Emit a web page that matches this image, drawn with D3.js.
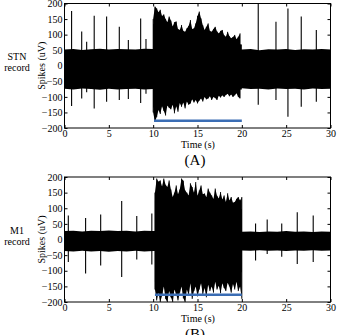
<!DOCTYPE html>
<meta charset="utf-8">
<script src="https://d3js.org/d3.v7.min.js"></script>
<style>
  body { margin: 0; background: #fff; }
  text { font-family: "Liberation Serif", serif; fill: #000; }
</style>
<body>
<div id="chart"></div>
<script>
// ticks
var xTicks = [0, 5, 10, 15, 20, 25, 30];
var yTicks = [-200, -150, -100, -50, 0, 50, 100, 150, 200];

// ---- STN record (A) ----
// dense band: upper / lower edge
var stnCoreT  = [0,1,2,3,4,5,6,7,8,9,10, 10,11,12,13,14,15,16,17,18,19,20, 20,21,22,23,24,25,26,27,28,29,30];
var stnCoreHi = [52,54,51,53,55,52,54,53,52,55,54, 135,120,105,98,95,92,88,84,78,72,68, 52,54,50,53,52,54,51,53,52,54,52];
var stnCoreLo = [-74,-76,-73,-75,-77,-74,-76,-75,-74,-76,-75, -135,-118,-108,-100,-96,-94,-90,-86,-82,-78,-76, -72,-75,-74,-76,-73,-75,-74,-76,-73,-75,-74];
// isolated spikes
var stnSpikeT  = [0.8, 1.94, 2.5, 3.35, 4.75, 6.18, 7.2, 8.59, 9.19, 21.85, 23.85, 25.2, 26.7, 28.4];
var stnSpikeHi = [176, 110, 77, 161, 158, 125, 83, 152, 86, 200, 141, 184, 158, 115];
var stnSpikeLo = [-129, -105, -85, -137, -116, -110, -107, -120, -90, -125, -110, -164, -132, -116];
// burst needles
var stnBurstT  = [10.0,10.2,10.4,10.6,10.8,11.0,11.2,11.4,11.6,11.8,12.0,12.2,12.4,12.6,12.8,13.0,13.2,13.4,13.6,13.8,14.0,14.2,14.4,14.6,14.8,15.0,15.2,15.4,15.6,15.8,16.0,16.2,16.4,16.6,16.8,17.0,17.2,17.4,17.6,17.8,18.0,18.2,18.4,18.6,18.8,19.0,19.2,19.4,19.6,19.8];
var stnBurstHi = [150,190,184,172,180,160,165,150,140,158,145,126,140,142,118,115,131,112,109,120,128,147,118,120,136,160,174,152,130,115,125,136,112,109,118,125,110,104,112,115,98,93,109,95,88,92,99,85,93,104];
var stnBurstLo = [-150,-180,-165,-142,-155,-130,-145,-160,-128,-135,-140,-125,-153,-130,-148,-120,-132,-118,-137,-115,-125,-121,-108,-118,-110,-121,-112,-105,-115,-100,-108,-105,-98,-110,-100,-104,-110,-96,-102,-95,-100,-94,-90,-98,-92,-100,-95,-88,-100,-105];
var stnStim = [10.1, 20];

// ---- M1 record (B) ----
var m1CoreT  = [0,1,2,3,4,5,6,7,8,9,10,10.2, 10.2,11,12,13,14,15,16,17,18,19,20, 20,21,22,23,24,25,26,27,28,29,30];
var m1CoreHi = [27,28,26,28,27,29,27,28,26,28,27,27, 125,122,120,118,115,112,110,108,104,100,98, 25,26,24,26,25,27,25,26,24,26,25];
var m1CoreLo = [-37,-38,-36,-38,-37,-39,-37,-38,-36,-38,-37,-37, -135,-132,-130,-128,-125,-122,-120,-116,-112,-108,-105, -35,-36,-34,-36,-35,-37,-35,-36,-34,-36,-35];
var m1SpikeT  = [0.43, 2.38, 4.08, 6.45, 8.15, 9.85, 21.55, 22.86, 24.5, 26.25, 28.05];
var m1SpikeHi = [77, 69, 80, 123, 75, 83, 51, 64, 51, 87, 77];
var m1SpikeLo = [-72, -109, -83, -120, -64, -80, -67, -46, -55, -78, -72];
var m1BurstT  = [10.2,10.4,10.6,10.8,11.0,11.2,11.4,11.6,11.8,12.0,12.2,12.4,12.6,12.8,13.0,13.2,13.4,13.6,13.8,14.0,14.2,14.4,14.6,14.8,15.0,15.2,15.4,15.6,15.8,16.0,16.2,16.4,16.6,16.8,17.0,17.2,17.4,17.6,17.8,18.0,18.2,18.4,18.6,18.8,19.0,19.2,19.4,19.6,19.8,20.0];
var m1BurstHi = [150,195,185,189,170,195,175,168,189,160,136,150,173,145,160,195,188,157,150,141,180,168,150,184,140,157,173,145,147,135,163,150,141,130,163,140,131,152,128,141,120,148,125,136,118,120,130,136,125,136];
var m1BurstLo = [-160,-195,-170,-200,-180,-150,-190,-200,-165,-185,-200,-160,-175,-195,-170,-150,-188,-200,-160,-178,-140,-190,-165,-150,-182,-160,-140,-175,-155,-185,-145,-165,-150,-170,-135,-160,-148,-172,-140,-155,-165,-138,-150,-170,-142,-160,-135,-165,-150,-190];
var m1Stim = [10.2, 20];

var stimLevel = -177;

var W = 337, H = 335;
var svg = d3.select("#chart").append("svg")
  .attr("width", W).attr("height", H);

var x = d3.scaleLinear().domain([0, 30]).range([64.5, 330.5]);

function panel(id, top, bottom, d) {
  var y = d3.scaleLinear().domain([-200, 200]).range([bottom, top]);
  var g = svg.append("g");

  g.append("clipPath").attr("id", "clip" + id)
    .append("rect")
    .attr("x", x(0)).attr("y", top)
    .attr("width", x(30) - x(0)).attr("height", bottom - top);

  var plot = g.append("g").attr("clip-path", "url(#clip" + id + ")");

  // dense band
  plot.append("path")
    .datum(d.coreT.map(function(t, i) { return [t, d.coreHi[i], d.coreLo[i]]; }))
    .attr("fill", "#000")
    .attr("d", d3.area()
      .x(function(p) { return x(p[0]); })
      .y0(function(p) { return y(p[2]); })
      .y1(function(p) { return y(p[1]); }));

  // burst: jagged fill through the needle tips
  plot.append("path")
    .datum(d.burstT.map(function(t, i) { return [t, d.burstHi[i], d.burstLo[i]]; }))
    .attr("fill", "#000")
    .attr("d", d3.area()
      .x(function(p) { return x(p[0]); })
      .y0(function(p) { return y(p[2]); })
      .y1(function(p) { return y(p[1]); }));

  // burst needles
  plot.selectAll(".bn").data(d.burstT).enter().append("line")
    .attr("x1", function(t) { return x(t); })
    .attr("x2", function(t) { return x(t); })
    .attr("y1", function(t, i) { return y(d.burstLo[i]); })
    .attr("y2", function(t, i) { return y(d.burstHi[i]); })
    .attr("stroke", "#000").attr("stroke-width", 0.9);

  // isolated spikes
  plot.selectAll(".sp").data(d.spikeT).enter().append("line")
    .attr("x1", function(t) { return x(t); })
    .attr("x2", function(t) { return x(t); })
    .attr("y1", function(t, i) { return y(d.spikeLo[i]); })
    .attr("y2", function(t, i) { return y(d.spikeHi[i]); })
    .attr("stroke", "#000").attr("stroke-width", 1.1);

  // stimulation bar
  plot.append("line")
    .attr("x1", x(d.stim[0])).attr("x2", x(d.stim[1]))
    .attr("y1", y(stimLevel)).attr("y2", y(stimLevel))
    .attr("stroke", "#3a6db4").attr("stroke-width", 2.5);

  // frame
  g.append("rect")
    .attr("x", x(0)).attr("y", top)
    .attr("width", x(30) - x(0)).attr("height", bottom - top)
    .attr("fill", "none").attr("stroke", "#000").attr("stroke-width", 1);

  // inward ticks on all sides
  g.append("g").attr("transform", "translate(0," + bottom + ")")
    .call(d3.axisBottom(x).tickValues(xTicks).tickSizeInner(-3).tickSizeOuter(0).tickPadding(2))
    .call(function(a) { a.select(".domain").remove(); a.selectAll("text").style("font-size", "10px").style("font-family", "Liberation Serif, serif"); });
  g.append("g").attr("transform", "translate(0," + top + ")")
    .call(d3.axisTop(x).tickValues(xTicks).tickSizeInner(-3).tickSizeOuter(0).tickFormat(""))
    .call(function(a) { a.select(".domain").remove(); });
  g.append("g").attr("transform", "translate(" + x(0) + ",0)")
    .call(d3.axisLeft(y).tickValues(yTicks).tickSizeInner(-3).tickSizeOuter(0).tickPadding(2))
    .call(function(a) { a.select(".domain").remove(); a.selectAll("text").style("font-size", "10px").style("font-family", "Liberation Serif, serif"); });
  g.append("g").attr("transform", "translate(" + x(30) + ",0)")
    .call(d3.axisRight(y).tickValues(yTicks).tickSizeInner(-3).tickSizeOuter(0).tickFormat(""))
    .call(function(a) { a.select(".domain").remove(); });

  // labels
  var mid = (top + bottom) / 2;
  g.append("text")
    .attr("transform", "translate(41," + mid + ") rotate(-90)")
    .attr("text-anchor", "middle").attr("dy", "0.35em")
    .style("font-size", "10px")
    .text("Spikes (uV)");
  g.append("text").attr("x", 17).attr("y", mid - 6)
    .attr("text-anchor", "middle").style("font-size", "10px").text(d.name);
  g.append("text").attr("x", 17).attr("y", mid + 5)
    .attr("text-anchor", "middle").style("font-size", "10px").text("record");
  g.append("text").attr("x", 198).attr("y", bottom + 20)
    .attr("text-anchor", "middle").style("font-size", "10px").text("Time (s)");
  g.append("text").attr("x", 195).attr("y", bottom + 37)
    .attr("text-anchor", "middle").style("font-size", "15px").text(d.tag);
}

panel("A", 3.5, 128, {
  name: "STN", tag: "(A)",
  coreT: stnCoreT, coreHi: stnCoreHi, coreLo: stnCoreLo,
  spikeT: stnSpikeT, spikeHi: stnSpikeHi, spikeLo: stnSpikeLo,
  burstT: stnBurstT, burstHi: stnBurstHi, burstLo: stnBurstLo,
  stim: stnStim
});
panel("B", 177, 302, {
  name: "M1", tag: "(B)",
  coreT: m1CoreT, coreHi: m1CoreHi, coreLo: m1CoreLo,
  spikeT: m1SpikeT, spikeHi: m1SpikeHi, spikeLo: m1SpikeLo,
  burstT: m1BurstT, burstHi: m1BurstHi, burstLo: m1BurstLo,
  stim: m1Stim
});
</script>
</body>
